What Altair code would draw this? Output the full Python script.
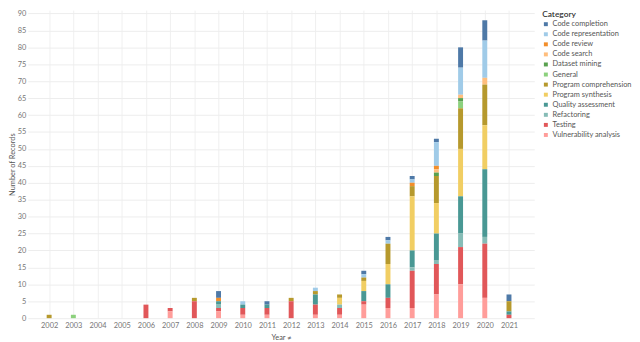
import altair as alt
import pandas as pd

years = list(range(2002, 2022))

categories = [
    "Code completion", "Code representation", "Code review", "Code search",
    "Dataset mining", "General", "Program comprehension", "Program synthesis",
    "Quality assessment", "Refactoring", "Testing", "Vulnerability analysis",
]
colors = [
    "#4e79a7", "#a0cbe8", "#f28e2b", "#ffbe7d",
    "#59a14f", "#8cd17d", "#b6992d", "#f1ce63",
    "#499894", "#86bcb6", "#e15759", "#ff9d9a",
]

# counts per year 2002..2021
code_completion       = [0,0,0,0,0,0,0,2,0,1,0,0,0,1,1,1,1,6,6,2]
code_representation   = [0,0,0,0,0,0,0,0,1,0,0,1,0,1,1,1,7,8,11,0]
code_review           = [0,0,0,0,0,0,0,1,0,0,0,0,0,0,0,1,1,0,0,0]
code_search           = [0,0,0,0,0,0,0,0,0,0,0,0,0,0,0,0,1,1,2,0]
dataset_mining        = [0,0,0,0,0,0,0,0,0,0,0,0,0,0,0,0,1,1,0,0]
general               = [0,1,0,0,0,0,0,0,0,0,0,0,0,0,0,0,0,2,0,0]
program_comprehension = [1,0,0,0,0,0,1,0,0,0,1,1,1,1,6,3,8,12,12,3]
program_synthesis     = [0,0,0,0,0,0,0,0,0,0,0,0,2,3,6,16,9,14,13,0]
quality_assessment    = [0,0,0,0,0,0,0,1,1,1,0,3,0,3,4,5,8,11,20,1]
refactoring           = [0,0,0,0,0,0,0,1,0,0,0,0,1,0,0,1,1,4,2,0]
testing               = [0,0,0,0,4,1,5,1,2,2,5,3,2,1,3,11,9,11,16,1]
vulnerability         = [0,0,0,0,0,2,0,2,1,1,0,1,1,4,3,3,7,10,6,0]

series = [
    code_completion, code_representation, code_review, code_search,
    dataset_mining, general, program_comprehension, program_synthesis,
    quality_assessment, refactoring, testing, vulnerability,
]

rows = []
for ci, (cat, vals) in enumerate(zip(categories, series)):
    for y, v in zip(years, vals):
        if v > 0:
            rows.append({"Year": y, "Category": cat, "Records": v, "rank": ci})
df = pd.DataFrame(rows)

FONT = "Lato"
PLOT_LEFT = 20
PLOT_W = 541 - 8 - PLOT_LEFT
X_MIN = 2002 - (45 - 8 - PLOT_LEFT) / 25.0
X_MAX = X_MIN + PLOT_W / 25.0

chart = alt.Chart(df).mark_bar(size=5).encode(
    x=alt.X(
        "Year:Q",
        scale=alt.Scale(domain=[X_MIN, X_MAX], nice=False, zero=False),
        axis=alt.Axis(
            title="Year ≠", values=years, format="d", labelFontSize=7.5,
            labelColor="#777777", titleFontSize=7.5, titleColor="#555555",
            titleFontWeight="normal", labelPadding=3, titlePadding=5,
            domain=False, ticks=False, grid=True, gridColor="#f0f0f0",
            labelFont=FONT, titleFont=FONT,
        ),
    ),
    y=alt.Y(
        "sum(Records):Q",
        stack="zero",
        scale=alt.Scale(domain=[0, 91], nice=False),
        axis=alt.Axis(
            title="Number of Records", values=list(range(0, 95, 5)),
            labelFontSize=7.5, labelColor="#777777", titleFontSize=7.5,
            titleColor="#555555", titleFontWeight="normal", labelPadding=2,
            titlePadding=1, domain=False, ticks=False, grid=True,
            gridColor="#ededed", labelFont=FONT, titleFont=FONT,
        ),
    ),
    color=alt.Color(
        "Category:N",
        scale=alt.Scale(domain=categories, range=colors),
        legend=alt.Legend(
            title="Category", orient="none", legendX=549 - 8 - PLOT_LEFT, legendY=0,
            symbolType="square", symbolSize=16, symbolStrokeWidth=0,
            labelFontSize=7.5, labelColor="#555555", titleFontSize=8.5,
            titleColor="#333333", titleFontWeight=600, rowPadding=1.2,
            titlePadding=2, labelFont=FONT, titleFont=FONT, labelOffset=3,
            labelLimit=200,
        ),
    ),
    order=alt.Order("rank:Q", sort="descending"),
).properties(
    width=PLOT_W,
    height=312,
    autosize=alt.AutoSizeParams(type="none"),
    padding={"left": PLOT_LEFT, "top": 0, "right": 632 - PLOT_LEFT - PLOT_W, "bottom": 22},
).configure_view(stroke=None)

chart.save("out.html", embed_options={"renderer": "svg", "actions": False})
